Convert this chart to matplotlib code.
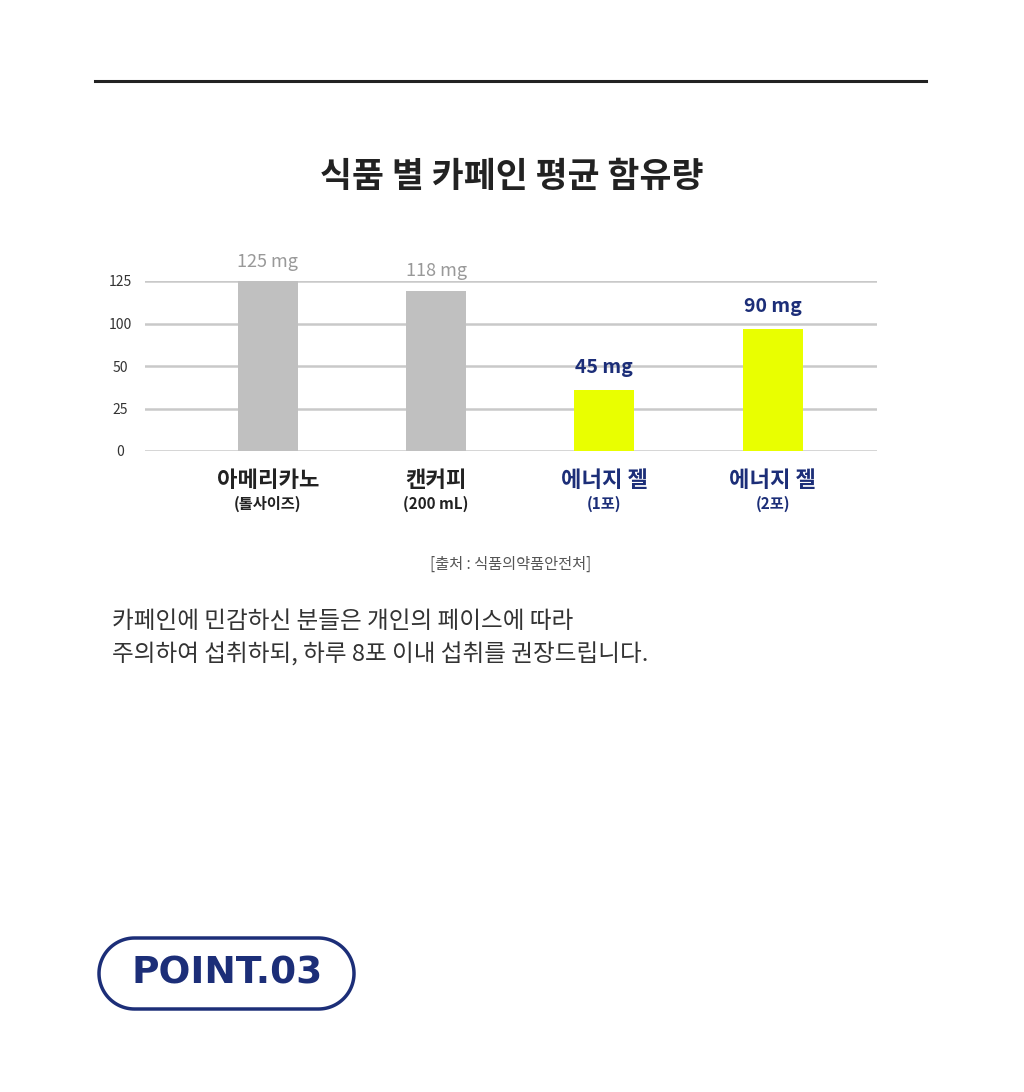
import numpy as np
import matplotlib
matplotlib.use("Agg")
import matplotlib.pyplot as plt
from matplotlib.patches import Polygon

plt.rcParams['font.family'] = ['Noto Sans CJK KR', 'DejaVu Sans']

# data
names = ['아메리카노', '캔커피', '에너지 젤', '에너지 젤']
subnames = ['(톨사이즈)', '(200 mL)', '(1포)', '(2포)']
caffeine = [125, 118, 45, 90]
value_labels = ['125 mg', '118 mg', '45 mg', '90 mg']
highlight = [False, False, True, True]
tick_pos = [0, 31.25, 62.5, 93.75, 125]
tick_labels = ['0', '25', '50', '100', '125']

W, H = 1024, 1092
GRAY_BAR = '#c0c0c0'
YELLOW = '#e9ff00'
NAVY = '#1c2e78'
DARK = '#222222'

def px(x, y):
    # pixel coords (top-left origin) -> figure fraction
    return x / W, 1 - y / H

fig = plt.figure(figsize=(W / 100, H / 100), dpi=100)
fig.patch.set_facecolor('white')

# top rule
fig.add_artist(plt.Line2D([95 / W, 926 / W], [1 - 81 / H] * 2, color=DARK, linewidth=2.2))

# title
fig.text(*px(512, 176), '식품 별 카페인 평균 함유량', ha='center', va='center',
         fontsize=25, fontweight='bold', color=DARK)

# chart axes
ax_l, ax_r, ax_t, ax_b = 145, 877, 281, 451
ax = fig.add_axes([ax_l / W, 1 - ax_b / H, (ax_r - ax_l) / W, (ax_b - ax_t) / H])
x = np.arange(len(caffeine))
colors = [YELLOW if h else GRAY_BAR for h in highlight]
ax.bar(x, caffeine, width=0.357, color=colors, zorder=3)
ax.set_xlim(-0.73, 3.62)
ax.set_ylim(0, 125)
ax.set_yticks(tick_pos)
ax.set_yticklabels(tick_labels)
for t in tick_pos:
    ax.axhline(t, color='#c9c9c9', linewidth=1.8, zorder=1)
for s in ax.spines.values():
    s.set_visible(False)
ax.set_xticks([])
ax.tick_params(axis='y', length=0, pad=18, labelsize=10, labelcolor='#333333')
for lab in ax.get_yticklabels():
    lab.set_horizontalalignment('center')

for i, v in enumerate(caffeine):
    if highlight[i]:
        ax.annotate(value_labels[i], (i, v), xytext=(0, 16), textcoords='offset points',
                    ha='center', va='center', fontsize=14, fontweight='bold', color=NAVY,
                    annotation_clip=False)
    else:
        ax.annotate(value_labels[i], (i, v), xytext=(0, 14), textcoords='offset points',
                    ha='center', va='center', fontsize=13, color='#999999',
                    annotation_clip=False)
    c = NAVY if highlight[i] else DARK
    ax.annotate(names[i], (i, 0), xytext=(0, -21), textcoords='offset points',
                ha='center', va='center', fontsize=16, fontweight='bold', color=c,
                annotation_clip=False)
    ax.annotate(subnames[i], (i, 0), xytext=(0, -38), textcoords='offset points',
                ha='center', va='center', fontsize=11, fontweight='bold', color=c,
                annotation_clip=False)

# source
fig.text(*px(511, 564), '[출처 : 식품의약품안전처]', ha='center', va='center',
         fontsize=11, color='#555555')

# paragraph
fig.text(*px(112, 622), '카페인에 민감하신 분들은 개인의 페이스에 따라', ha='left', va='center',
         fontsize=17, color='#333333')
fig.text(*px(112, 655), '주의하여 섭취하되, 하루 8포 이내 섭취를 권장드립니다.', ha='left', va='center',
         fontsize=17, color='#333333')

# POINT badge: a stadium outline on an overlay axes in pixel units
ov = fig.add_axes([0, 0, 1, 1], zorder=-1)
ov.set_xlim(0, W)
ov.set_ylim(H, 0)
ov.axis('off')
bx0, by0, bx1, by1 = 99, 938, 354, 1009
r = (by1 - by0) / 2
cy = (by0 + by1) / 2
a = np.linspace(-np.pi / 2, np.pi / 2, 60)
right = np.column_stack([bx1 - r + r * np.cos(a), cy + r * np.sin(a)])
left = np.column_stack([bx0 + r - r * np.cos(a), cy - r * np.sin(a)])
ov.add_patch(Polygon(np.vstack([right, left]), closed=True, facecolor='white',
                     edgecolor=NAVY, linewidth=2.5))
ov.text(227, 974, 'POINT.03', ha='center', va='center', fontsize=27,
        fontweight='bold', color=NAVY, family=['DejaVu Sans'])

fig.savefig('out.png', dpi=100, facecolor='white')
